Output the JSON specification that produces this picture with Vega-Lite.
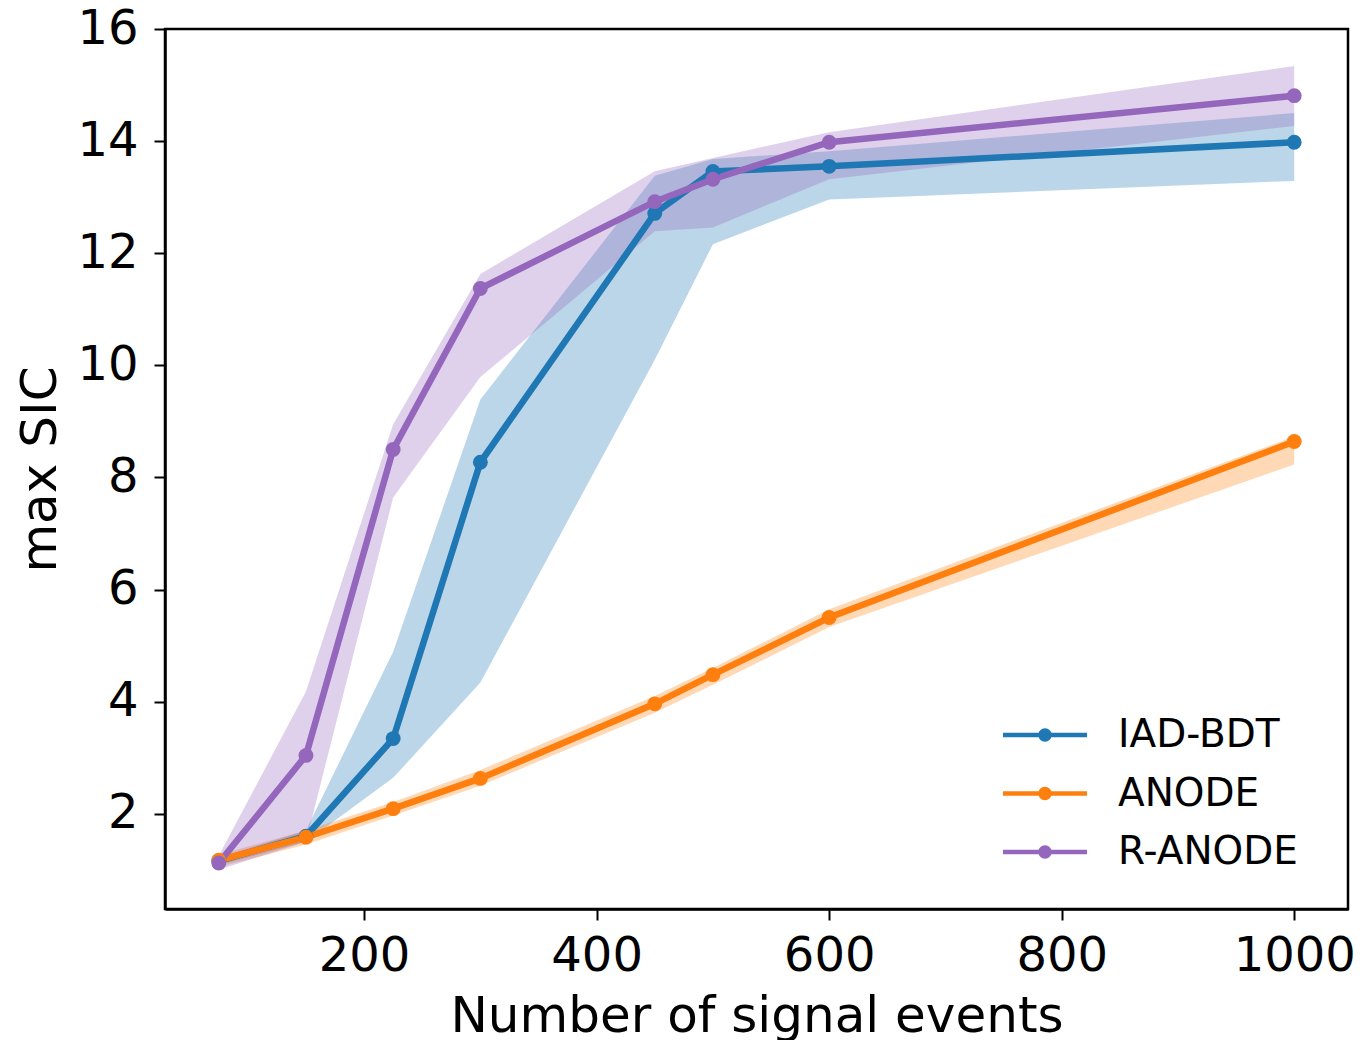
{
  "$schema": "https://vega.github.io/schema/vega-lite/v6.json",
  "width": 1183,
  "height": 880,
  "autosize": {"type": "none"},
  "padding": {"left": 165, "top": 29, "right": 15, "bottom": 131},
  "background": "white",
  "config": {
    "font": "DejaVu Sans",
    "view": {"stroke": "black", "strokeWidth": 2.5},
    "axis": {
      "grid": false,
      "domainColor": "black",
      "domainWidth": 2.5,
      "tickColor": "black",
      "tickWidth": 2,
      "tickSize": 11,
      "labelFont": "DejaVu Sans",
      "labelFontSize": 48,
      "labelColor": "black",
      "titleFont": "DejaVu Sans",
      "titleFontSize": 50,
      "titleFontWeight": "normal",
      "titleColor": "black"
    }
  },
  "data": {
    "values": [
      {"method": "IAD-BDT", "n": 75, "sic": 1.16, "lo": 1.08, "hi": 1.22},
      {"method": "IAD-BDT", "n": 150, "sic": 1.60, "lo": 1.50, "hi": 1.70},
      {"method": "IAD-BDT", "n": 225, "sic": 3.34, "lo": 2.64, "hi": 4.89},
      {"method": "IAD-BDT", "n": 300, "sic": 8.27, "lo": 4.34, "hi": 9.39},
      {"method": "IAD-BDT", "n": 450, "sic": 12.71, "lo": 10.10, "hi": 13.38},
      {"method": "IAD-BDT", "n": 500, "sic": 13.46, "lo": 12.16, "hi": 13.68},
      {"method": "IAD-BDT", "n": 600, "sic": 13.55, "lo": 12.96, "hi": 13.82},
      {"method": "IAD-BDT", "n": 1000, "sic": 13.98, "lo": 13.29, "hi": 14.50},
      {"method": "ANODE", "n": 75, "sic": 1.17, "lo": 1.05, "hi": 1.27},
      {"method": "ANODE", "n": 150, "sic": 1.58, "lo": 1.45, "hi": 1.70},
      {"method": "ANODE", "n": 225, "sic": 2.09, "lo": 1.97, "hi": 2.21},
      {"method": "ANODE", "n": 300, "sic": 2.63, "lo": 2.50, "hi": 2.78},
      {"method": "ANODE", "n": 450, "sic": 3.96, "lo": 3.80, "hi": 4.10},
      {"method": "ANODE", "n": 500, "sic": 4.48, "lo": 4.30, "hi": 4.60},
      {"method": "ANODE", "n": 600, "sic": 5.50, "lo": 5.33, "hi": 5.65},
      {"method": "ANODE", "n": 1000, "sic": 8.64, "lo": 8.23, "hi": 8.73},
      {"method": "R-ANODE", "n": 75, "sic": 1.12, "lo": 1.00, "hi": 1.25},
      {"method": "R-ANODE", "n": 150, "sic": 3.04, "lo": 1.50, "hi": 4.18},
      {"method": "R-ANODE", "n": 225, "sic": 8.50, "lo": 7.64, "hi": 8.95},
      {"method": "R-ANODE", "n": 300, "sic": 11.37, "lo": 9.79, "hi": 11.63},
      {"method": "R-ANODE", "n": 450, "sic": 12.92, "lo": 12.39, "hi": 13.46},
      {"method": "R-ANODE", "n": 500, "sic": 13.32, "lo": 12.46, "hi": 13.70},
      {"method": "R-ANODE", "n": 600, "sic": 13.98, "lo": 13.32, "hi": 14.16},
      {"method": "R-ANODE", "n": 1000, "sic": 14.81, "lo": 14.27, "hi": 15.34}
    ]
  },
  "encoding": {
    "x": {
      "field": "n",
      "type": "quantitative",
      "scale": {"domain": [28.75, 1046.25], "nice": false, "zero": false},
      "axis": {
        "title": "Number of signal events",
        "values": [200, 400, 600, 800, 1000],
        "format": "d",
        "labelPadding": 12,
        "titlePadding": 11
      }
    },
    "color": {
      "field": "method",
      "type": "nominal",
      "sort": ["IAD-BDT", "ANODE", "R-ANODE"],
      "scale": {
        "domain": ["IAD-BDT", "ANODE", "R-ANODE"],
        "range": ["#1f77b4", "#ff7f0e", "#9467bd"]
      },
      "legend": {
        "title": null,
        "orient": "none",
        "legendX": 859,
        "legendY": 685,
        "padding": 0,
        "labelFont": "DejaVu Sans",
        "labelFontSize": 39,
        "labelColor": "black",
        "labelLimit": 400,
        "labelOffset": 52,
        "rowPadding": 17.5,
        "symbolSize": 1764,
        "symbolType": "M-2,-0.11H2V0.11H-2Z M0.32,0A0.32,0.32 0 1 1 -0.32,0A0.32,0.32 0 1 1 0.32,0Z",
        "encode": {
          "symbols": {
            "update": {
              "fill": {"scale": "color", "field": "value"},
              "fillOpacity": {"value": 1},
              "opacity": {"value": 1},
              "strokeWidth": {"value": 0}
            }
          }
        }
      }
    }
  },
  "layer": [
    {
      "mark": {"type": "area", "opacity": 0.3},
      "encoding": {
        "y": {
          "field": "lo",
          "type": "quantitative",
          "scale": {"domain": [0.3, 16.0], "nice": false, "zero": false},
          "axis": {
            "title": "max SIC",
            "values": [2, 4, 6, 8, 10, 12, 14, 16],
            "labelPadding": 16,
            "titlePadding": 11
          }
        },
        "y2": {"field": "hi"}
      }
    },
    {
      "mark": {"type": "line", "strokeWidth": 6.5},
      "encoding": {
        "y": {"field": "sic", "type": "quantitative"}
      }
    },
    {
      "mark": {"type": "point", "filled": true, "size": 220, "opacity": 1},
      "encoding": {
        "y": {"field": "sic", "type": "quantitative"}
      }
    }
  ]
}
